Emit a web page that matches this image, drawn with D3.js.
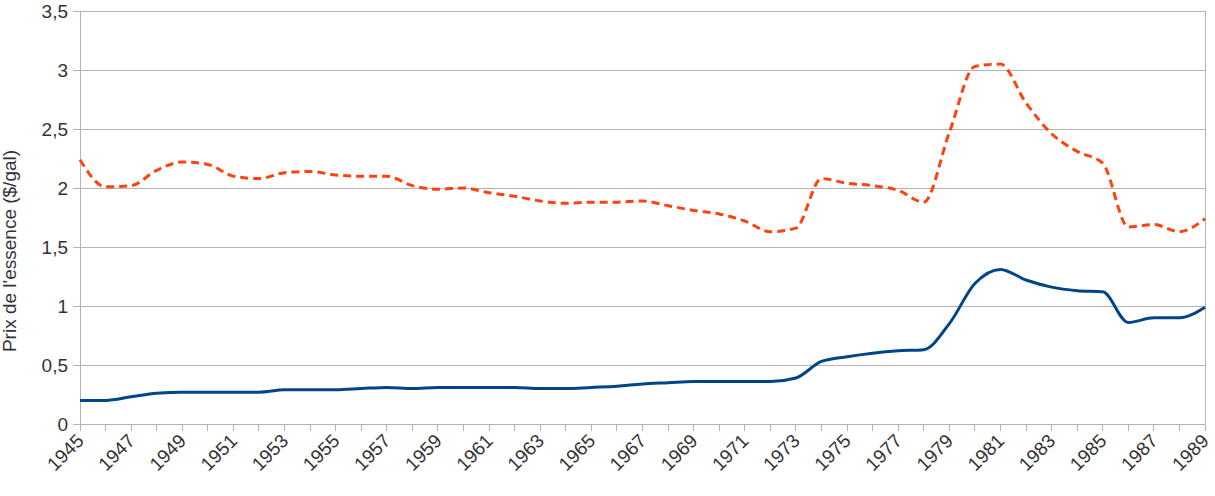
<!DOCTYPE html>
<html><head><meta charset="utf-8">
<script src="https://cdn.jsdelivr.net/npm/d3@7"></script>
<style>body{margin:0;background:#fff}svg{display:block}</style>
</head><body>
<svg id="c" width="1215" height="496"></svg>
<script>
const years = d3.range(1945, 1990);
const realPrice = [2.24,2.01,2.02,2.15,2.22,2.20,2.10,2.08,2.13,2.14,2.11,2.10,2.10,2.02,1.99,2.00,
  1.96,1.93,1.89,1.87,1.88,1.88,1.89,1.85,1.81,1.78,1.72,1.63,1.66,2.08,2.04,2.02,1.98,1.88,
  2.47,3.03,3.05,2.72,2.46,2.31,2.21,1.67,1.69,1.63,1.74];
const nominalPrice = [0.20,0.20,0.23,0.26,0.27,0.27,0.27,0.27,0.29,0.29,0.29,0.30,0.31,0.30,0.31,0.31,
  0.31,0.31,0.30,0.30,0.31,0.32,0.34,0.35,0.36,0.36,0.36,0.36,0.39,0.53,0.57,0.60,0.62,0.63,
  0.85,1.19,1.31,1.22,1.16,1.13,1.12,0.86,0.90,0.90,0.99];
const yTicks = [0,0.5,1,1.5,2,2.5,3,3.5];
const xLabelYears = years.filter(y => (y - 1945) % 2 === 0);
const yTitle = "Prix de l'essence ($/gal)";

const svg = d3.select("#c");
const L = 80, R = 1205, T = 11, B = 424;
const x = d3.scaleLinear().domain([1945, 1989]).range([L, R]);
const y = d3.scaleLinear().domain([0, 3.5]).range([B, T]);
const gray = "#b3b3b3";
const font = "Liberation Sans, Arial, sans-serif";
const fmt = d => String(d).replace(".", ",");

svg.append("g").selectAll("line").data(yTicks).join("line")
  .attr("x1", L - 7).attr("x2", R).attr("y1", d => y(d)).attr("y2", d => y(d))
  .attr("stroke", gray).attr("stroke-width", 1).attr("shape-rendering", "crispEdges");
svg.append("line").attr("x1", L).attr("x2", L).attr("y1", T).attr("y2", B)
  .attr("stroke", gray).attr("shape-rendering", "crispEdges");
svg.append("line").attr("x1", R).attr("x2", R).attr("y1", T).attr("y2", B)
  .attr("stroke", gray).attr("shape-rendering", "crispEdges");
svg.append("g").selectAll("line").data(years).join("line")
  .attr("x1", d => x(d)).attr("x2", d => x(d)).attr("y1", B).attr("y2", B + 7)
  .attr("stroke", gray).attr("shape-rendering", "crispEdges");

svg.append("g").selectAll("text").data(yTicks).join("text")
  .attr("x", 68).attr("y", d => y(d)).attr("dy", "0.35em")
  .attr("text-anchor", "end")
  .attr("font-family", font).attr("font-size", 19)
  .attr("fill", "#333").text(fmt);
svg.append("g").selectAll("text").data(xLabelYears).join("text")
  .attr("transform", d => `translate(${x(d) + 5},${442}) rotate(-45)`)
  .attr("text-anchor", "end")
  .attr("font-family", font).attr("font-size", 19)
  .attr("fill", "#333").text(d => d);
svg.append("text").attr("transform", `translate(16,251) rotate(-90)`)
  .attr("text-anchor", "middle")
  .attr("font-family", font).attr("font-size", 19)
  .attr("fill", "#333").text(yTitle);

const line = d3.line().x((d, i) => x(years[i])).y(d => y(d)).curve(d3.curveMonotoneX);
svg.append("path").datum(realPrice).attr("d", line).attr("fill", "none")
  .attr("stroke", "#ff420e").attr("stroke-width", 3).attr("stroke-dasharray", "8,5");
svg.append("path").datum(nominalPrice).attr("d", line).attr("fill", "none")
  .attr("stroke", "#004586").attr("stroke-width", 3);
</script>
</body></html>
